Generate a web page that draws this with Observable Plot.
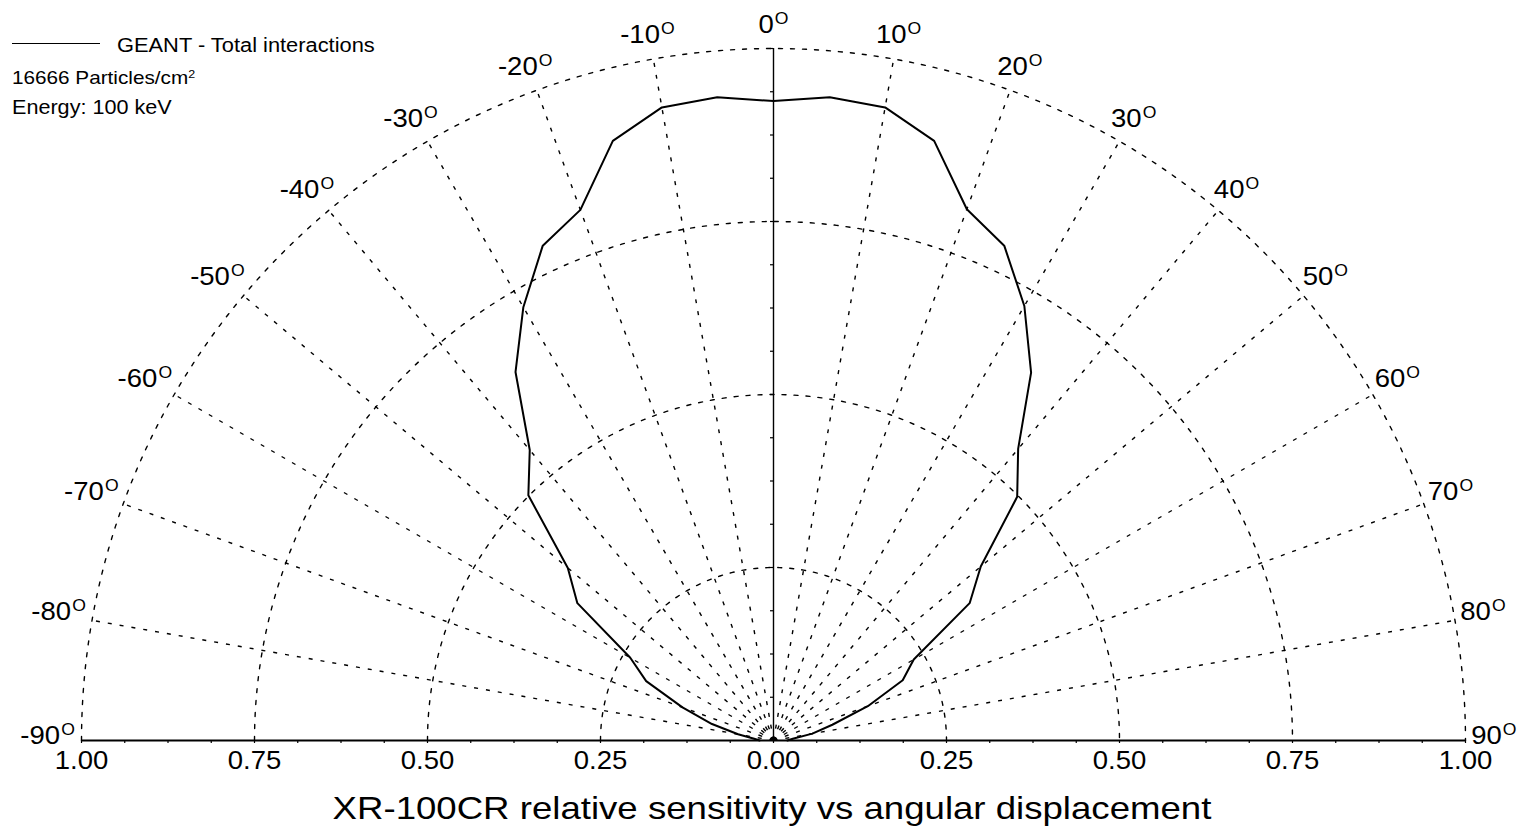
<!DOCTYPE html>
<html><head><meta charset="utf-8">
<script src="https://cdn.jsdelivr.net/npm/d3@7"></script>
<script src="https://cdn.jsdelivr.net/npm/@observablehq/plot@0.6"></script>
<style>
body{margin:0;background:#fff;}
#wrap{position:relative;width:1533px;height:830px;overflow:hidden;font-family:"Liberation Sans",Arial,sans-serif;color:#000;background:#fff;}
#chart{position:absolute;left:0;top:0;}
.leg{position:absolute;white-space:nowrap;transform:scaleX(1.12);transform-origin:0 0;line-height:1;}
.leg sup{font-size:0.6em;vertical-align:0.55em;line-height:0;}
#swatch{position:absolute;left:12px;top:43px;width:88px;height:0;border-top:1.6px solid #000;}
#title{position:absolute;left:272px;width:1000px;top:793px;text-align:center;font-size:30.5px;line-height:1;white-space:nowrap;transform:scaleX(1.2);transform-origin:50% 0;}
</style>
</head><body>
<div id="wrap">
  <div id="chart"></div>
  <div id="swatch"></div>
  <div class="leg" style="left:117px;top:36px;font-size:19.5px">GEANT - Total interactions</div>
  <div class="leg" style="left:12px;top:69px;font-size:18.5px">16666 Particles/cm<sup>2</sup></div>
  <div class="leg" style="left:12px;top:97.5px;font-size:19.3px">Energy: 100 keV</div>
  <div id="title">XR-100CR relative sensitivity vs angular displacement</div>
</div>
<script>
// ---- data ----
const angles = [-90,-85,-80,-75,-70,-65,-60,-55,-50,-45,-40,-35,-30,-25,-20,-15,-10,-5,
                0,5,10,15,20,25,30,35,40,45,50,55,60,65,70,75,80,85,90];
const sensitivity = [0.020,0.028,0.052,0.092,0.140,0.203,0.239,0.346,0.388,0.501,0.548,0.650,0.723,0.789,0.816,0.897,0.929,0.933,
                     0.924,
                     0.933,0.929,0.897,0.817,0.789,0.725,0.649,0.550,0.498,0.391,0.346,0.234,0.206,0.145,0.088,0.057,0.028,0.020];
const gridRadii = [0.25, 0.5, 0.75, 1.0];
const spokeAngles = [-80,-70,-60,-50,-40,-30,-20,-10,10,20,30,40,50,60,70,80];
const labelAngles = [-90,-80,-70,-60,-50,-40,-30,-20,-10,0,10,20,30,40,50,60,70,80,90];
const radiusTicks = [-1,-0.75,-0.5,-0.25,0,0.25,0.5,0.75,1];
const minorTicks = d3.range(-1, 1.0001, 0.0625);
const vTicks = d3.range(0.0625, 1.0001, 0.0625);

const rad = Math.PI / 180;
const curve = angles.map((a, i) => ({a, r: sensitivity[i]}));
const px = d => d.r * Math.sin(d.a * rad);
const py = d => d.r * Math.cos(d.a * rad);
const gridPts = gridRadii.flatMap(r => d3.range(-90, 90.5, 1).map(a => ({r, a})));
const labR = 1.034;
const labX = a => { const s = Math.sin(a * rad); return labR * s + (a < 0 ? 0.015 : 0.007) * s; };
const labY = a => labR * Math.cos(a * rad) + 0.006 * Math.abs(Math.sin(a * rad));

const svg = Plot.plot({
  width: 1533, height: 830,
  marginLeft: 81, marginRight: 68, marginTop: 48, marginBottom: 90,
  x: {domain: [-1, 1]},
  y: {domain: [0, 1], axis: null},
  style: {fontFamily: "Liberation Sans, Arial, sans-serif", background: "transparent", overflow: "visible", color: "#000"},
  marks: [
    Plot.line(gridPts, {x: px, y: py, z: "r", stroke: "#000", strokeWidth: 1.4, strokeDasharray: "4,8"}),
    Plot.link(spokeAngles, {x1: 0, y1: 0, x2: a => Math.sin(a * rad), y2: a => Math.cos(a * rad),
      stroke: "#000", strokeWidth: 1.4, strokeDasharray: "4,8"}),
    Plot.ruleX([0], {y1: 0, y2: 1, stroke: "#000", strokeWidth: 1.4}),
    Plot.ruleY(vTicks, {y: d => d, x1: 0, x2: 0, insetLeft: -3, stroke: "#000", strokeWidth: 1.2}),
    Plot.ruleY([0], {x1: -1, x2: 1, stroke: "#000", strokeWidth: 1.9}),
    Plot.axisX(minorTicks, {tickSize: 3, tickFormat: () => "", label: null, strokeWidth: 1.2}),
    Plot.axisX(radiusTicks, {tickSize: 0, tickPadding: 11, tickFormat: d => Math.abs(d).toFixed(2), fontSize: 25, label: null}),
    Plot.line(curve, {x: px, y: py, stroke: "#000", strokeWidth: 2}),
    Plot.text(labelAngles, {x: labX, y: labY,
      text: a => String(a), fontSize: 25, textAnchor: "middle", lineAnchor: "middle", fill: "#000"})
  ]
});
document.getElementById("chart").appendChild(svg);

function stretch(el, s) {
  const tr = el.getAttribute("transform");
  if (tr) el.setAttribute("transform", tr + ` scale(${s},1)`);
  else {
    const x = +el.getAttribute("x") || 0, y = +el.getAttribute("y") || 0;
    el.removeAttribute("x"); el.removeAttribute("y");
    el.setAttribute("transform", `translate(${x},${y}) scale(${s},1)`);
  }
}
const NS = "http://www.w3.org/2000/svg";
svg.querySelectorAll("text").forEach(el => {
  const t = el.textContent;
  if (/^-?\d+$/.test(t)) {
    el.textContent = "";
    const a = document.createElementNS(NS, "tspan"); a.textContent = t; el.appendChild(a);
    const b = document.createElementNS(NS, "tspan"); b.textContent = "O";
    b.setAttribute("font-size", "16"); b.setAttribute("dy", "-9"); b.setAttribute("dx", "1");
    el.appendChild(b);
    stretch(el, 1.1);
  } else if (/^\d\.\d\d$/.test(t)) {
    stretch(el, 1.1);
  }
});
</script>
</body></html>
